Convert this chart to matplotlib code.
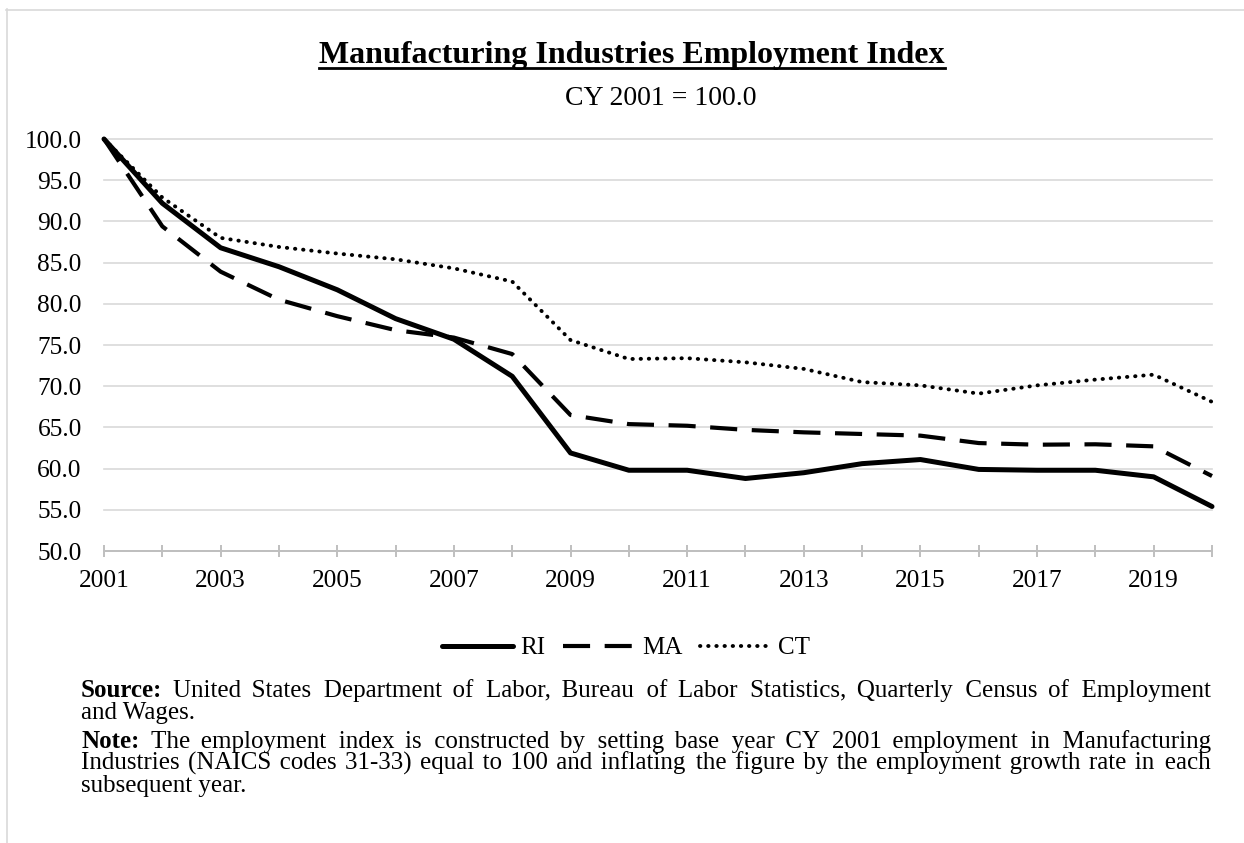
import matplotlib
matplotlib.use("Agg")
import matplotlib.pyplot as plt
from matplotlib.lines import Line2D

# ---------------- data ----------------
years = list(range(2001, 2021))
ri = [100.0, 92.2, 86.8, 84.5, 81.7, 78.2, 75.7, 71.2, 61.9, 59.8,
      59.8, 58.8, 59.5, 60.6, 61.1, 59.9, 59.8, 59.8, 59.0, 55.4]
ma = [100.0, 89.4, 83.9, 80.5, 78.5, 76.8, 75.9, 73.9, 66.5, 65.4,
      65.2, 64.7, 64.4, 64.2, 64.0, 63.1, 62.9, 62.95, 62.7, 59.1]
ct = [100.0, 92.9, 88.0, 86.9, 86.1, 85.4, 84.3, 82.7, 75.6, 73.3,
      73.4, 72.9, 72.1, 70.5, 70.1, 69.1, 70.1, 70.8, 71.4, 68.1]
series_names = ["RI", "MA", "CT"]
ytick_vals = [50, 55, 60, 65, 70, 75, 80, 85, 90, 95, 100]
xtick_labels = [str(y) if (y - 2001) % 2 == 0 else "" for y in years]

title = "Manufacturing Industries Employment Index"
subtitle = "CY 2001 = 100.0"
source_line1 = "United States Department of Labor, Bureau of Labor Statistics, Quarterly Census of Employment"
source_line2 = "and Wages."
note_line1 = "The employment index is constructed by setting base year CY 2001 employment in Manufacturing"
note_line2 = "Industries (NAICS codes 31-33) equal to 100 and inflating the figure by the employment growth rate in each"
note_line3 = "subsequent year."

FONT = "Liberation Serif"
FAM = [FONT, "DejaVu Serif"]
plt.rcParams["font.family"] = FAM

W, H = 1244, 843
DPI = 100
fig = plt.figure(figsize=(W / DPI, H / DPI), dpi=DPI)
fig.patch.set_facecolor("white")

def fx(px):
    return px / W

def fy(py):
    return 1 - py / H

# border (top and left)
border_c = "#d9d9d9"
fig.add_artist(Line2D([fx(6), fx(1244)], [fy(9.5), fy(9.5)], color=border_c, lw=1.2))
fig.add_artist(Line2D([fx(6.5), fx(6.5)], [fy(9), fy(843)], color=border_c, lw=1.2))

ax = fig.add_axes([fx(104), fy(551), fx(1212) - fx(104), (551 - 139) / H])
ax.set_facecolor("white")

ax.plot(years, ri, color="black", lw=3.6, solid_joinstyle="round",
        solid_capstyle="round", clip_on=False, label=series_names[0], zorder=5)
ax.plot(years, ma, color="black", lw=3.0, linestyle=(0, (6.5, 3.5)),
        dash_joinstyle="round", clip_on=False, label=series_names[1], zorder=4)
ax.plot(years, ct, color="black", lw=2.8, linestyle=(0, (0.1, 2.0)),
        dash_capstyle="round", clip_on=False, label=series_names[2], zorder=3)

ax.set_xlim(2001, 2020)
ax.set_ylim(50, 100)
ax.set_yticks(ytick_vals)
ax.set_yticklabels([f"{v:.1f}" for v in ytick_vals])
ax.set_xticks(years)
ax.set_xticklabels(xtick_labels)

for s in ["top", "right", "left"]:
    ax.spines[s].set_visible(False)
ax.spines["bottom"].set_color("#bfbfbf")
ax.spines["bottom"].set_linewidth(1.4)

ax.yaxis.grid(True, color="#d9d9d9", lw=1.2)
for gl in ax.get_ygridlines():
    gl.set_clip_on(False)
ax.set_axisbelow(True)

ax.tick_params(axis="y", length=0, pad=16, labelsize=18.3, labelcolor="black")
ax.tick_params(axis="x", direction="inout", length=9, width=1.4, color="#bfbfbf",
               pad=9, labelsize=18.3, labelcolor="black")
for t in ax.get_xticklabels() + ax.get_yticklabels():
    t.set_fontfamily(FAM)

# ---------------- title ----------------
renderer = fig.canvas.get_renderer()
tt = fig.text(fx(632), fy(63), title, ha="center", va="baseline",
              fontsize=23, fontweight="bold", family=FAM)
bb = tt.get_window_extent(renderer)
fig.add_artist(Line2D([bb.x0 / W, bb.x1 / W], [fy(68), fy(68)], color="black", lw=2.0))
fig.text(fx(661), fy(105), subtitle, ha="center", va="baseline", fontsize=20, family=FAM)

# ---------------- legend ----------------
leg = fig.legend(loc="center", bbox_to_anchor=(fx(626), fy(648)), ncol=3,
                 frameon=False, handlelength=2.85, handletextpad=0.3,
                 columnspacing=0.7, borderaxespad=0, prop={"family": FAM, "size": 18})

# ---------------- notes (justified lines) ----------------
NFS = 18
X0, X1 = 81, 1211
HAIR = "\u200a"

def text_width(s, weight="normal"):
    t = fig.text(0, 0, s, fontsize=NFS, fontweight=weight, family=FAM)
    w = t.get_window_extent(renderer).width
    t.remove()
    return w

SPACE_W = text_width("x x") - text_width("xx")
HAIR_W = (text_width("x" + HAIR * 20 + "x") - text_width("xx")) / 20.0

def place_line(body, y_px, justify, bold=None):
    words = body.split()
    wb = text_width(bold, "bold") if bold else 0.0
    plain_w = text_width(" ".join(words))
    internal = len(words) - 1
    gaps = internal + (1 if bold else 0)
    per_gap = 0.0
    if justify and gaps > 0:
        extra = (X1 - X0) - wb - (SPACE_W if bold else 0) - plain_w
        per_gap = extra / gaps
    x = X0
    if bold:
        fig.text(fx(X0), fy(y_px), bold, fontsize=NFS, fontweight="bold",
                 family=FAM, ha="left", va="baseline")
        x = X0 + wb + SPACE_W + (per_gap if justify else 0.0)
    if justify and internal > 0:
        total_hairs = max(0, round(per_gap * internal / HAIR_W))
        parts = [words[0]]
        for i in range(1, len(words)):
            n = (i * total_hairs) // internal - ((i - 1) * total_hairs) // internal
            parts.append(" " + HAIR * n + words[i])
        s = "".join(parts)
    else:
        s = " ".join(words)
    t = fig.text(fx(x), fy(y_px), s, fontsize=NFS, family=FAM,
                 ha="left", va="baseline")
    if justify:
        w = t.get_window_extent(renderer).width
        t.set_x(fx(X1 - w))

place_line(source_line1, 697, True, bold="Source:")
place_line(source_line2, 719, False)
place_line(note_line1, 748, True, bold="Note:")
place_line(note_line2, 770, True)
place_line(note_line3, 792, False)

fig.savefig("out.png", dpi=DPI, facecolor="white")
